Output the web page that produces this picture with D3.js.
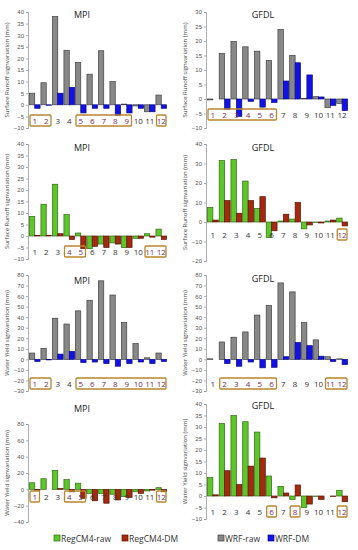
<!DOCTYPE html>
<html>
<head>
<meta charset="utf-8">
<script src="https://cdn.jsdelivr.net/npm/d3@7"></script>
<style>
  body { margin: 0; background: #fff; }
  svg { display: block; font-family: "Open Sans", "Liberation Sans", sans-serif; }
</style>
</head>
<body>
<div id="chart"></div>
<script>
// meses
const months = ["1", "2", "3", "4", "5", "6", "7", "8", "9", "10", "11", "12"];

// Surface runoff - WRF
const srMpiWrfRaw = [5, 9.5, 38, 23.5, 18.2, 13.2, 23.3, 10, 0.3, -0.5, -3, 4.2];
const srMpiWrfDm = [-1.5, -0.2, 5, 7.5, -3.5, -1.5, -1.5, -4.5, -3.5, -1.5, -3, -1.5];
const srGfdlWrfRaw = [-0.3, 15.7, 19.8, 18, 16.5, 13.3, 24, 15, 0.2, 0.8, -3, -1.5];
const srGfdlWrfDm = [0, -3.5, -6, -0.8, -2.8, -1.2, 6.2, 12.5, 8.3, 0.7, -2.2, -4];

// Surface runoff - RegCM4
const srMpiRegRaw = [8.5, 13.8, 22.5, 9.3, 1.3, -5.5, -3.5, -3, -5, -1, 1, 3];
const srMpiRegDm = [0.3, 0.3, 1, -1.5, -5.5, -4.5, -5, -3.5, -5, -1, -0.5, -1.5];
const srGfdlRegRaw = [7.5, 31.5, 32, 21, 7, -8, 0.5, 1.5, -3.5, -0.3, 0.5, 2];
const srGfdlRegDm = [1, 11, 4.5, 11, 13, -4.5, 4, 10, -1.5, -0.5, 1, -2];

// Water yield - WRF
const wyMpiWrfRaw = [6, 10.5, 39, 33.5, 46, 56, 74.5, 61, 35, 15, 1.5, 6];
const wyMpiWrfDm = [-2, -0.5, 5, 7.5, -3, -2.5, -4, -6.5, -4, -2.5, -4, -2];
const wyGfdlWrfRaw = [0.5, 16.5, 21, 26, 42, 51, 72.5, 64, 35, 18.5, 2.5, 0.5];
const wyGfdlWrfDm = [0, -4, -6.5, -2.5, -8, -7.5, 2.5, 16, 13, 3, -2, -5];

// Water yield - RegCM4
const wyMpiRegRaw = [8, 13, 23, 12, 7.5, -5, -5, -6, -9, -3, -2, 2];
const wyMpiRegDm = [-1, 0, 1, -3, -11, -14, -17, -13, -10, -5, -1, -3];
const wyGfdlRegRaw = [8, 31.5, 35, 32.3, 27.8, 8.7, 4.2, -1.5, -5, -0.2, 0, 2.5];
const wyGfdlRegDm = [0.5, 11, 5, 13, 16.5, -0.8, 1.3, 4.8, -3.5, -1.5, -0.2, -2.5];

// meses resaltados (recuadros)
const boxes = [
  [[1, 2], [5, 9], [12, 12]],
  [[1, 6]],
  [[4, 5], [11, 12]],
  [[12, 12]],
  [[1, 2], [5, 12]],
  [[2, 6], [11, 12]],
  [[1, 1], [4, 5], [12, 12]],
  [[6, 6], [8, 8], [12, 12]],
];

const legendLabels = ["RegCM4-raw", "RegCM4-DM", "WRF-raw", "WRF-DM"];

const colores = {
  "RegCM4-raw": { fill: "#5ec62a", stroke: "#2f6b12" },
  "RegCM4-DM": { fill: "#a3290f", stroke: "#5a1606" },
  "WRF-raw": { fill: "#888888", stroke: "#404040" },
  "WRF-DM": { fill: "#1212e6", stroke: "#0a0a80" },
};

const labelSR = "Surface Runoff signvariation (mm)";
const labelWY = "Water Yield signvariation (mm)";

const paneles = [
  { title: "MPI", raw: srMpiWrfRaw, dm: srMpiWrfDm, model: "WRF", dom: [-10, 40], step: 5, col: 0, top: 12, bottom: 128, titleY: 18, labY: 121, ylab: labelSR },
  { title: "GFDL", raw: srGfdlWrfRaw, dm: srGfdlWrfDm, model: "WRF", dom: [-10, 30], step: 5, col: 1, top: 12, bottom: 128, titleY: 18, labY: 115, ylab: labelSR },
  { title: "MPI", raw: srMpiRegRaw, dm: srMpiRegDm, model: "RegCM4", dom: [-10, 40], step: 5, col: 0, top: 144, bottom: 259, titleY: 151, labY: 252, ylab: labelSR },
  { title: "GFDL", raw: srGfdlRegRaw, dm: srGfdlRegDm, model: "RegCM4", dom: [-20, 40], step: 10, col: 1, top: 144, bottom: 261, titleY: 151, labY: 235, ylab: labelSR },
  { title: "MPI", raw: wyMpiWrfRaw, dm: wyMpiWrfDm, model: "WRF", dom: [-30, 80], step: 10, col: 0, top: 275, bottom: 391, titleY: 284, labY: 384, ylab: labelWY },
  { title: "GFDL", raw: wyGfdlWrfRaw, dm: wyGfdlWrfDm, model: "WRF", dom: [-30, 80], step: 10, col: 1, top: 275, bottom: 391, titleY: 282, labY: 384, ylab: labelWY },
  { title: "MPI", raw: wyMpiRegRaw, dm: wyMpiRegDm, model: "RegCM4", dom: [-40, 80], step: 20, col: 0, top: 424, bottom: 522, titleY: 412, labY: 497, ylab: labelWY },
  { title: "GFDL", raw: wyGfdlRegRaw, dm: wyGfdlRegDm, model: "RegCM4", dom: [-10, 40], step: 5, col: 1, top: 404, bottom: 519, titleY: 409, labY: 512, ylab: labelWY },
];

const width = 358;
const height = 550;

const svg = d3
  .select("#chart")
  .append("svg")
  .attr("width", width)
  .attr("height", height);

paneles.forEach((p, i) => {
  const x0 = p.col === 0 ? 0 : 178;
  const axisX = x0 + 28;
  const right = p.col === 0 ? x0 + 167 : x0 + 170;

  const x = d3.scaleBand().domain(months).range([axisX + 1, right]).padding(0);
  const xs = d3
    .scaleBand()
    .domain(["raw", "dm"])
    .range([0, x.bandwidth()])
    .paddingOuter(0.08)
    .paddingInner(0);
  const y = d3.scaleLinear().domain(p.dom).range([p.bottom, p.top]);

  const g = svg.append("g");

  // eje y
  const yAxis = d3
    .axisLeft(y)
    .tickValues(d3.range(p.dom[0], p.dom[1] + 0.001, p.step))
    .tickSize(2)
    .tickPadding(2)
    .tickSizeOuter(2);
  const ga = g
    .append("g")
    .attr("transform", `translate(${axisX},0)`)
    .call(yAxis);
  ga.selectAll("text").attr("font-size", 6).attr("fill", "#555");
  ga.selectAll(".domain, .tick line").attr("stroke", "#999").attr("stroke-width", 0.8);

  // etiqueta eje y
  g.append("text")
    .attr("transform", `translate(${x0 + 9},${(p.top + p.bottom) / 2}) rotate(-90)`)
    .attr("text-anchor", "middle")
    .attr("font-size", 6)
    .attr("fill", "#444")
    .text(p.ylab);

  // titulo
  g.append("text")
    .attr("x", p.col === 0 ? x0 + 82 : x0 + 85)
    .attr("y", p.titleY)
    .attr("text-anchor", "middle")
    .attr("font-size", 9)
    .attr("fill", "#222")
    .text(p.title);

  const kRaw = p.model + "-raw";
  const kDm = p.model + "-DM";
  const filas = months.map((m, j) => ({ m, raw: p.raw[j], dm: p.dm[j] }));

  [["raw", kRaw], ["dm", kDm]].forEach(([campo, clave]) => {
    g.append("g")
      .selectAll("rect")
      .data(filas)
      .join("rect")
      .attr("x", (d) => x(d.m) + xs(campo))
      .attr("y", (d) => y(Math.max(0, d[campo])))
      .attr("width", xs.bandwidth())
      .attr("height", (d) => Math.abs(y(d[campo]) - y(0)))
      .attr("fill", colores[clave].fill)
      .attr("stroke", colores[clave].stroke)
      .attr("stroke-width", 0.7);
  });

  // recuadros
  const enCaja = new Set();
  boxes[i].forEach(([a, b]) => {
    for (let k = a; k <= b; k++) enCaja.add(String(k));
    const bx = x(String(a)) + 1;
    const bw = x(String(b)) + x.bandwidth() - bx - 1;
    g.append("rect")
      .attr("x", bx)
      .attr("y", p.labY - 6)
      .attr("width", bw)
      .attr("height", 11)
      .attr("rx", 1)
      .attr("fill", "none")
      .attr("stroke", "#b8862e")
      .attr("stroke-width", 1.3);
  });

  // etiquetas de mes
  g.append("g")
    .selectAll("text")
    .data(months)
    .join("text")
    .attr("x", (m) => x(m) + x.bandwidth() / 2)
    .attr("y", p.labY + 3)
    .attr("text-anchor", "middle")
    .attr("font-size", 8)
    .attr("fill", (m) => (enCaja.has(m) ? "#7b2a55" : "#333"))
    .text((m) => m);
});

// leyenda
const legendX = [54, 122, 218, 268];
const legend = svg.append("g");
legendLabels.forEach((l, i) => {
  legend
    .append("rect")
    .attr("x", legendX[i])
    .attr("y", 535)
    .attr("width", 6)
    .attr("height", 6)
    .attr("fill", colores[l].fill)
    .attr("stroke", colores[l].stroke)
    .attr("stroke-width", 0.7);
  legend
    .append("text")
    .attr("x", legendX[i] + 7)
    .attr("y", 542)
    .attr("font-size", 8.5)
    .attr("fill", "#333")
    .text(l);
});
</script>
</body>
</html>
